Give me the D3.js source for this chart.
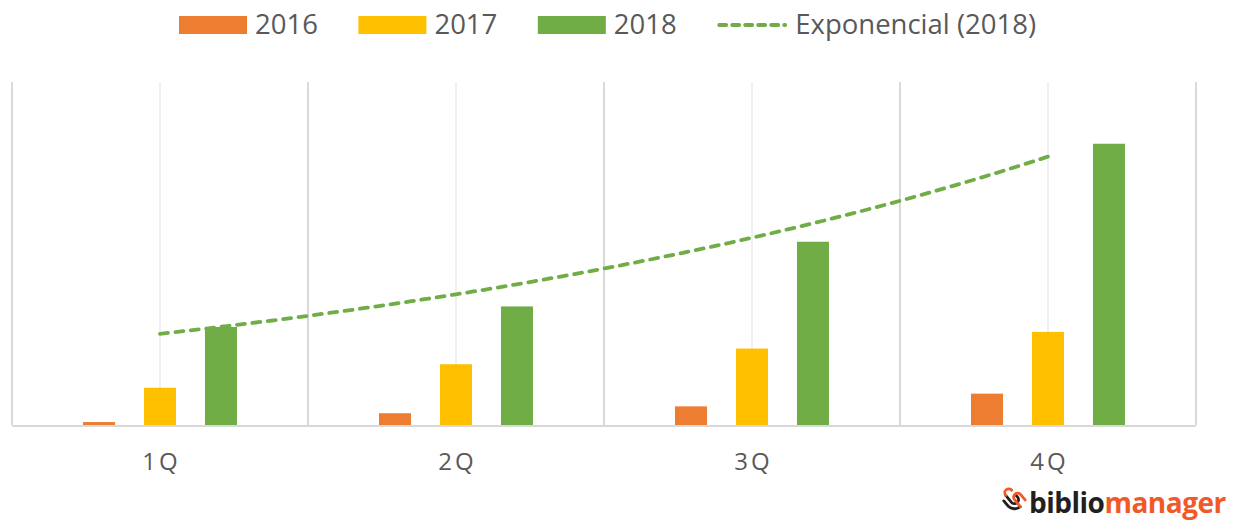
<!DOCTYPE html>
<html>
<head>
<meta charset="utf-8">
<script src="https://cdn.jsdelivr.net/npm/d3@7"></script>
<style>
  html, body { margin: 0; padding: 0; background: #fff; }
  svg { display: block; font-family: "Open Sans", sans-serif; }
</style>
</head>
<body>
<svg id="chart" width="1234" height="523"></svg>
<script>
const quarters = ["1Q", "2Q", "3Q", "4Q"];
const years = ["2016", "2017", "2018"];
const values2016 = [3, 12, 19, 32];
const values2017 = [38, 62, 78, 95];
const values2018 = [100, 121, 187, 287];
const colors = { "2016": "#ED7D31", "2017": "#FFC000", "2018": "#70AD47" };
const trendLabel = "Exponencial (2018)";

const svg = d3.select("#chart");
const plotLeft = 12, plotRight = 1196, plotTop = 82, plotBottom = 425;

const series = { "2016": values2016, "2017": values2017, "2018": values2018 };

const x0 = d3.scaleBand().domain(quarters).range([plotLeft, plotRight]).padding(0);
const x1 = d3.scaleBand().domain(years).range([0, x0.bandwidth()])
  .paddingInner(0.475).paddingOuter(1.164);
const y = d3.scaleLinear().domain([0, 350]).range([plotBottom, plotTop]);

// gridlines: darker at quarter edges, faint at quarter centres
const edges = quarters.map(q => x0(q)).concat([plotRight]);
svg.append("g").selectAll("line")
  .data(edges)
  .join("line")
  .attr("x1", d => d).attr("x2", d => d)
  .attr("y1", plotTop).attr("y2", plotBottom)
  .attr("stroke", "#d9d9d9").attr("stroke-width", 2);

svg.append("g").selectAll("line")
  .data(quarters)
  .join("line")
  .attr("x1", d => x0(d) + x0.bandwidth() / 2).attr("x2", d => x0(d) + x0.bandwidth() / 2)
  .attr("y1", plotTop).attr("y2", plotBottom)
  .attr("stroke", "#f0f0f0").attr("stroke-width", 2);

// bars
const groups = svg.append("g").selectAll("g")
  .data(quarters)
  .join("g")
  .attr("transform", d => `translate(${x0(d)},0)`);

groups.selectAll("rect")
  .data((q, i) => years.map(yr => ({ yr, v: series[yr][i] })))
  .join("rect")
  .attr("x", d => x1(d.yr))
  .attr("y", d => y(d.v))
  .attr("width", x1.bandwidth())
  .attr("height", d => plotBottom - y(d.v))
  .attr("fill", d => colors[d.yr]);

// baseline
svg.append("line")
  .attr("x1", plotLeft).attr("x2", plotRight)
  .attr("y1", plotBottom + 1).attr("y2", plotBottom + 1)
  .attr("stroke", "#d9d9d9").attr("stroke-width", 2);

// x axis labels
const xAxis = svg.append("g")
  .attr("transform", `translate(0,${plotBottom})`)
  .call(d3.axisBottom(x0).tickSize(0).tickPadding(28));
xAxis.select(".domain").remove();
xAxis.selectAll("text")
  .attr("font-family", "Open Sans, sans-serif")
  .attr("font-size", 24)
  .attr("letter-spacing", 3)
  .attr("dx", 1.5)
  .attr("fill", "#595959");

// exponential trendline fitted to 2018
const xs = values2018.map((v, i) => i + 1);
const lnys = values2018.map(v => Math.log(v));
const mx = d3.mean(xs), my = d3.mean(lnys);
const b = d3.sum(xs, (xv, i) => (xv - mx) * (lnys[i] - my)) / d3.sum(xs, xv => (xv - mx) ** 2);
const a = my - b * mx;
const trend = d3.range(1, 4.0001, 0.05).map(t => ({ t, v: Math.exp(a + b * t) }));
const xT = d3.scaleLinear().domain([1, 4])
  .range([x0(quarters[0]) + x0.bandwidth() / 2, x0(quarters[3]) + x0.bandwidth() / 2]);

svg.append("path")
  .datum(trend)
  .attr("d", d3.line().x(d => xT(d.t)).y(d => y(d.v)))
  .attr("fill", "none")
  .attr("stroke", "#70AD47")
  .attr("stroke-width", 3.8)
  .attr("stroke-dasharray", "8,7.5")
  .attr("stroke-linecap", "round");

// legend
const legend = svg.append("g").attr("font-size", 27.5).attr("fill", "#595959");
let lx = 179;
years.forEach(yr => {
  legend.append("rect").attr("x", lx).attr("y", 16).attr("width", 68).attr("height", 18)
    .attr("fill", colors[yr]);
  const t = legend.append("text").attr("x", lx + 76).attr("y", 34).text(yr);
  lx = lx + 76 + t.node().getComputedTextLength() + 40.5;
});
legend.append("line")
  .attr("x1", lx + 2).attr("x2", lx + 68)
  .attr("y1", 25).attr("y2", 25)
  .attr("stroke", "#70AD47").attr("stroke-width", 3.8)
  .attr("stroke-dasharray", "7,6").attr("stroke-linecap", "round");
legend.append("text").attr("x", lx + 78).attr("y", 34).text(trendLabel);

// logo
const logo = svg.append("g");
const icon = logo.append("g").attr("transform", "translate(1013,501) rotate(-40)")
  .attr("fill", "none").attr("stroke-width", 2.8).attr("stroke-linecap", "round");
icon.append("path").attr("d", "M-2,-9 L-2,0 A4,4 0 0 0 6,0 L6,-3").attr("stroke", "#231F20");
icon.append("path").attr("d", "M-7,-6 L-7,1 A9,9 0 0 0 2,9").attr("stroke", "#231F20");
icon.append("path").attr("d", "M2,9 L2,0 A4,4 0 0 1 10,0 L10,7").attr("stroke", "#F05A28");
icon.append("path").attr("d", "M-2,-9 A4,4 0 0 1 6,-9").attr("stroke", "#F05A28");
const logoText = logo.append("text")
  .attr("x", 1029).attr("y", 513)
  .attr("font-family", "Open Sans, sans-serif")
  .attr("font-size", 28).attr("font-weight", 700)
  .attr("letter-spacing", -0.5);
logoText.append("tspan").attr("fill", "#231F20").text("biblio");
logoText.append("tspan").attr("fill", "#F05A28").text("manager");
</script>
</body>
</html>
